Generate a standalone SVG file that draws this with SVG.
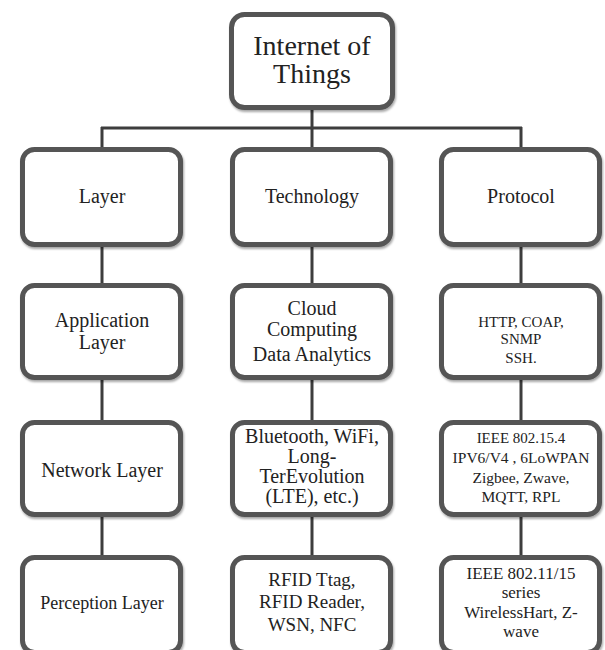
<svg xmlns="http://www.w3.org/2000/svg" width="605" height="650" viewBox="0 0 605 650" font-family="'Liberation Serif', 'Times New Roman', serif">
<style>
  .box { fill: #ffffff; stroke: #555555; stroke-width: 5; }
  .conn { stroke: #3d3d3d; stroke-width: 3; fill: none; }
  .lbl { font-family: 'Liberation Serif', 'Times New Roman', serif; fill: #222222; text-anchor: middle; }
  .t28 { font-size: 28px; }
  .t20 { font-size: 20px; }
  .t19 { font-size: 19px; }
  .t18 { font-size: 18px; }
  .t17 { font-size: 17px; }
  .t16 { font-size: 15.5px; }
  .t15 { font-size: 15px; }
</style>
<defs>
  <filter id="sh" x="-10%" y="-10%" width="125%" height="125%">
    <feDropShadow dx="1" dy="2" stdDeviation="1.2" flood-color="#000000" flood-opacity="0.35"/>
  </filter>
</defs>
<rect width="605" height="650" fill="#ffffff"/>
<g id="connectors">
  <line class="conn" x1="312" y1="108" x2="312" y2="128"/>
  <line class="conn" x1="101" y1="128" x2="522" y2="128"/>
  <line class="conn" x1="102" y1="127" x2="102" y2="150"/>
  <line class="conn" x1="312" y1="127" x2="312" y2="150"/>
  <line class="conn" x1="521" y1="127" x2="521" y2="150"/>
  <line class="conn" x1="102" y1="245" x2="102" y2="286"/>
  <line class="conn" x1="312" y1="245" x2="312" y2="286"/>
  <line class="conn" x1="521" y1="245" x2="521" y2="286"/>
  <line class="conn" x1="102" y1="378" x2="102" y2="423"/>
  <line class="conn" x1="312" y1="378" x2="312" y2="423"/>
  <line class="conn" x1="521" y1="378" x2="521" y2="423"/>
  <line class="conn" x1="102" y1="513" x2="102" y2="558"/>
  <line class="conn" x1="312" y1="513" x2="312" y2="558"/>
  <line class="conn" x1="521" y1="513" x2="521" y2="558"/>
</g>
<g id="iot">
  <rect class="box" filter="url(#sh)" x="231.5" y="14.5" width="161" height="93" rx="13"/>
  <text class="lbl t28" x="312" y="55">Internet of</text>
  <text class="lbl t28" x="312" y="83">Things</text>
</g>
<g id="layer">
  <rect class="box" filter="url(#sh)" x="22.5" y="149.5" width="158" height="95" rx="12"/>
  <text class="lbl t20" x="102" y="203">Layer</text>
</g>
<g id="technology">
  <rect class="box" filter="url(#sh)" x="232.5" y="149.5" width="158" height="95" rx="12"/>
  <text class="lbl t20" x="312" y="203">Technology</text>
</g>
<g id="protocol">
  <rect class="box" filter="url(#sh)" x="441.5" y="149.5" width="158" height="95" rx="12"/>
  <text class="lbl t20" x="521" y="203">Protocol</text>
</g>
<g id="application-layer">
  <rect class="box" filter="url(#sh)" x="22.5" y="285.5" width="158" height="92" rx="12"/>
  <text class="lbl t20" x="102" y="327">Application</text>
  <text class="lbl t20" x="102" y="349">Layer</text>
</g>
<g id="cloud">
  <rect class="box" filter="url(#sh)" x="232.5" y="285.5" width="158" height="92" rx="12"/>
  <text class="lbl t20" x="312" y="315">Cloud</text>
  <text class="lbl t20" x="312" y="336">Computing</text>
  <text class="lbl t20" x="312" y="361">Data Analytics</text>
</g>
<g id="http">
  <rect class="box" filter="url(#sh)" x="441.5" y="285.5" width="158" height="92" rx="12"/>
  <text class="lbl t15" x="521" y="327">HTTP, COAP,</text>
  <text class="lbl t15" x="521" y="344">SNMP</text>
  <text class="lbl t15" x="521" y="363">SSH.</text>
</g>
<g id="network-layer">
  <rect class="box" filter="url(#sh)" x="22.5" y="422.5" width="158" height="92" rx="12"/>
  <text class="lbl t20" x="102" y="477">Network Layer</text>
</g>
<g id="bluetooth">
  <rect class="box" filter="url(#sh)" x="232.5" y="422.5" width="158" height="92" rx="12"/>
  <text class="lbl t20" x="312" y="443">Bluetooth, WiFi,</text>
  <text class="lbl t20" x="312" y="463">Long-</text>
  <text class="lbl t20" x="312" y="483">TerEvolution</text>
  <text class="lbl t20" x="312" y="503">(LTE), etc.)</text>
</g>
<g id="ieee-802-15-4">
  <rect class="box" filter="url(#sh)" x="441.5" y="422.5" width="158" height="92" rx="12"/>
  <text class="lbl t15" x="521" y="443">IEEE 802.15.4</text>
  <text class="lbl t16" x="521" y="463">IPV6/V4 , 6LoWPAN</text>
  <text class="lbl t16" x="521" y="483">Zigbee, Zwave,</text>
  <text class="lbl t16" x="521" y="502">MQTT, RPL</text>
</g>
<g id="perception-layer">
  <rect class="box" filter="url(#sh)" x="22.5" y="557.5" width="158" height="95" rx="12"/>
  <text class="lbl t18" x="102" y="609">Perception Layer</text>
</g>
<g id="rfid">
  <rect class="box" filter="url(#sh)" x="232.5" y="557.5" width="158" height="95" rx="12"/>
  <text class="lbl t19" x="312" y="586">RFID Ttag,</text>
  <text class="lbl t19" x="312" y="608">RFID Reader,</text>
  <text class="lbl t19" x="312" y="631">WSN, NFC</text>
</g>
<g id="ieee-802-11">
  <rect class="box" filter="url(#sh)" x="441.5" y="557.5" width="158" height="95" rx="12"/>
  <text class="lbl t17" x="521" y="579">IEEE 802.11/15</text>
  <text class="lbl t17" x="521" y="598">series</text>
  <text class="lbl t17" x="521" y="618">WirelessHart, Z-</text>
  <text class="lbl t17" x="521" y="637">wave</text>
</g>
</svg>
